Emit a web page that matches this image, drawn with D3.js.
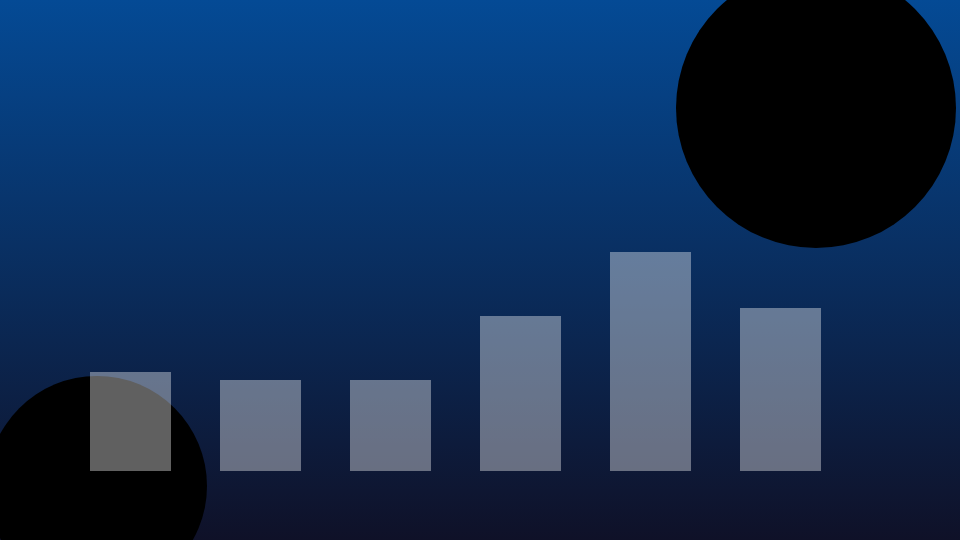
<!DOCTYPE html>
<html>
<head>
<meta charset="utf-8">
<script src="https://cdn.jsdelivr.net/npm/d3@7"></script>
<style>
  html, body { margin: 0; padding: 0; background: #0e1128; }
  svg { display: block; }
</style>
</head>
<body>
<div id="chart"></div>
<script>
// bar data
var categories = ["A", "B", "C", "D", "E", "F"];
var values = [99, 91, 91, 155, 219, 163];

// decorative circles: [cx, cy, r] in data-free page units
var circleCx = [816, 97];
var circleCy = [108, 486];
var circleR = [140, 110];

var width = 960,
    height = 540;

var svg = d3.select("#chart").append("svg")
    .attr("width", width)
    .attr("height", height);

var defs = svg.append("defs");
var grad = defs.append("linearGradient")
    .attr("id", "bg")
    .attr("x1", 0).attr("y1", 0)
    .attr("x2", 0).attr("y2", 1);
grad.append("stop").attr("offset", "0%").attr("stop-color", "#044a95");
grad.append("stop").attr("offset", "100%").attr("stop-color", "#0f1128");

svg.append("rect")
    .attr("width", width)
    .attr("height", height)
    .attr("fill", "url(#bg)");

// black circles behind the bars
svg.selectAll("circle.blob")
    .data(circleR)
    .enter()
    .append("circle")
    .attr("class", "blob")
    .attr("cx", function(d, i) { return circleCx[i]; })
    .attr("cy", function(d, i) { return circleCy[i]; })
    .attr("r", function(d) { return d; })
    .attr("fill", "#000");

var x = d3.scaleBand()
    .domain(categories)
    .range([90, 821])
    .paddingInner(49 / 130)
    .paddingOuter(0);

var y = d3.scaleLinear()
    .domain([0, d3.max(values)])
    .range([471, 252]);

svg.selectAll("rect.bar")
    .data(values)
    .enter()
    .append("rect")
    .attr("class", "bar")
    .attr("x", function(d, i) { return x(categories[i]); })
    .attr("y", function(d) { return y(d); })
    .attr("width", x.bandwidth())
    .attr("height", function(d) { return y(0) - y(d); })
    .attr("fill", "#fff")
    .attr("fill-opacity", 0.377);
</script>
</body>
</html>
